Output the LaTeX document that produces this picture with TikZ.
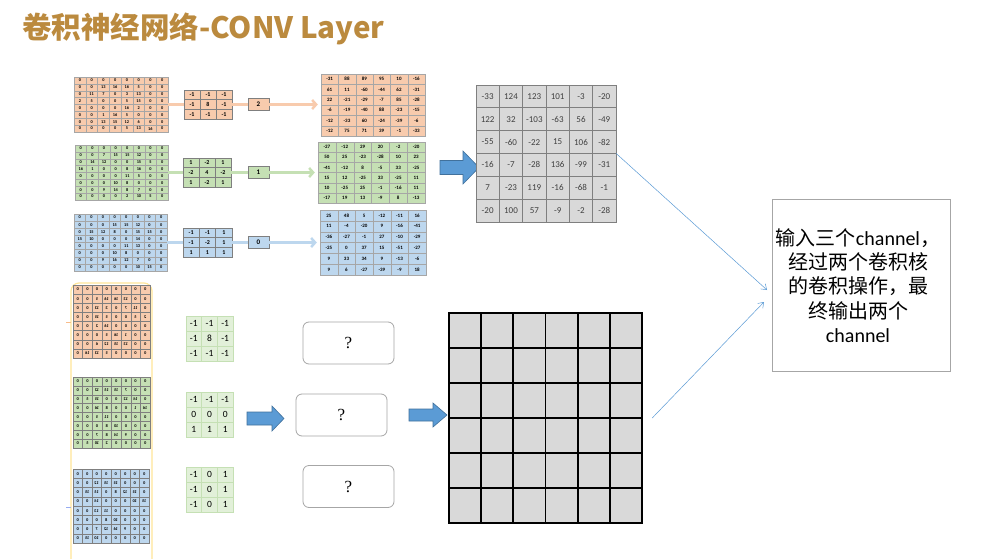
\documentclass[tikz,border=0pt]{standalone}
\usepackage{fontspec}
\setmainfont{Carlito}
\newfontfamily\cjk{Noto Sans CJK SC}
\newfontfamily\serifq{Liberation Serif}
\usetikzlibrary{arrows.meta,calc}
\definecolor{titlec}{HTML}{BB8A3E}
\definecolor{orf}{HTML}{F8CBAD}
\definecolor{grf}{HTML}{C5E0B4}
\definecolor{blf}{HTML}{BDD7EE}
\definecolor{cellb}{HTML}{A6A6A6}
\definecolor{kb}{HTML}{7F7F7F}
\definecolor{grayf}{HTML}{D9D9D9}
\definecolor{arrf}{HTML}{5B9BD5}
\definecolor{arrd}{HTML}{41719C}
\definecolor{kgf}{HTML}{E2F0D9}
\definecolor{kgb}{HTML}{C5E0B4}
\definecolor{yel}{HTML}{FFE699}
\definecolor{thinb}{HTML}{5B9BD5}
\definecolor{qb}{HTML}{A6A6A6}
\definecolor{dtext}{HTML}{404040}
\newcommand\cellgrid[9]{%
  \node[inner sep=0pt, minimum width=#4pt, minimum height=#5pt] (#1) at ({#2+#4/2},{#3+#5/2}) {};
  \pgfmathsetmacro\cgw{#4/#6}\pgfmathsetmacro\cgh{#5/#7}
  \foreach \rv [count=\ri] in {#9} {
    \foreach \cv [count=\ci] in \rv {
      \node[#8, minimum width=\cgw pt, minimum height=\cgh pt] at ({#2+(\ci-0.5)*\cgw},{#3+(\ri-0.5)*\cgh}) {\cv};
    }
  }
}
\newcommand\mirgrid[9]{%
  \node[inner sep=0pt, minimum width=#4pt, minimum height=#5pt] (#1) at ({#2+#4/2},{#3+#5/2}) {};
  \pgfmathsetmacro\cgw{#4/#6}\pgfmathsetmacro\cgh{#5/#7}
  \foreach \rv [count=\ri] in {#9} {
    \foreach \cv [count=\ci] in \rv {
      \node[#8, minimum width=\cgw pt, minimum height=\cgh pt] at ({#2+(#6-\ci+0.5)*\cgw},{#3+(\ri-0.5)*\cgh}) {\reflectbox{\cv}};
    }
  }
}
\tikzset{
  incell/.style={draw=cellb, line width=0.3pt, fill=#1, inner sep=0pt, font=\fontsize{4.3}{4.5}\selectfont\bfseries},
  kcell/.style={draw=kb, line width=0.5pt, fill=#1, inner sep=0pt, font=\fontsize{6}{6.5}\selectfont\bfseries},
  ocell/.style={draw=cellb, line width=0.3pt, fill=#1, inner sep=0pt, font=\fontsize{5}{5.5}\selectfont\bfseries},
  gcell/.style={draw=kb, line width=0.8pt, fill=grayf, inner sep=0pt, text=dtext, font=\fontsize{9}{10}\selectfont},
  bkcell/.style={draw=kgb, line width=0.8pt, fill=kgf, inner sep=0pt, font=\fontsize{9.5}{10}\selectfont},
  mcell/.style={draw=kb, line width=0.3pt, fill=#1, inner sep=0pt, font=\fontsize{4.3}{4.5}\selectfont\bfseries},
  biasbox/.style={draw=kb, line width=0.6pt, fill=#1, inner sep=0pt, minimum width=21pt, minimum height=12pt, font=\fontsize{7}{7.5}\selectfont\bfseries},
  qbox/.style={draw=qb, rounded corners=6pt, line width=0.8pt, minimum width=91pt, minimum height=42pt, font=\serifq\fontsize{17}{19}\selectfont},
  conn/.style={line width=2.5pt, draw=#1},
  connarr/.style={line width=2.5pt, draw=#1, -{Straight Barb[length=4pt,width=9pt]}},
  thinarr/.style={draw=thinb, line width=0.5pt, -{Straight Barb[length=5pt,width=7pt]}},
  bigarrow/.style={fill=arrf, draw=arrd, line width=0.6pt},
}
\begin{document}
\begin{tikzpicture}[x=1pt,y=-1pt]
\useasboundingbox[fill=white] (0,0) rectangle (1003,559);
% title
\node[anchor=west, text=titlec, font=\cjk\bfseries\fontsize{29.5}{32}\selectfont, inner sep=0pt] (title) at (22,29) {卷积神经网络-CONV Layer};
% ---------- top: orange
\cellgrid{oi}{74}{77}{94}{55}{8}{8}{incell=orf}{{0,0,0,0,0,0,0,0},{0,0,13,16,16,5,0,0},{0,11,7,0,3,13,0,0},{2,5,0,0,5,15,0,0},{0,0,0,0,16,2,0,0},{0,0,1,16,5,0,0,0},{0,0,13,15,12,6,0,0},{0,0,0,0,5,13,16,0}}
\cellgrid{ok}{184}{90}{48}{29}{3}{3}{kcell=orf}{{-1,-1,-1},{-1,8,-1},{-1,-1,-1}}
\node[biasbox=orf] (ob) at (258.5,104.5) {2};
\cellgrid{oo}{321}{74}{104}{62}{6}{6}{ocell=orf}{{-31,88,89,95,10,-16},{61,11,-60,-44,62,-31},{22,-21,-29,-7,85,-28},{-6,-19,-40,88,-23,-15},{-12,-33,60,-24,-39,-6},{-12,75,71,39,-1,-33}}
\draw[conn=orf] (oi.east) -- (oi.east -| ok.west);
\draw[conn=orf] (ok.east) -- (ok.east -| ob.west);
\draw[connarr=orf] (ob.east) -- ([xshift=-3pt]ob.east -| oo.west);
% ---------- top: green
\cellgrid{gi}{75}{145}{93}{55}{8}{8}{incell=grf}{{0,0,0,0,0,0,0,0},{0,0,7,15,15,12,0,0},{0,14,12,0,0,15,5,0},{16,1,0,0,8,16,0,0},{0,0,0,0,11,5,0,0},{0,0,0,10,8,0,0,0},{0,0,9,14,8,7,0,0},{0,0,0,0,2,10,5,0}}
\cellgrid{gk}{183}{158}{48}{29}{3}{3}{kcell=grf}{{1,-2,1},{-2,4,-2},{1,-2,1}}
\node[biasbox=grf] (gb) at (258.5,172.5) {1};
\cellgrid{go}{318}{142}{107}{61}{6}{6}{ocell=grf}{{-27,-12,29,20,-2,-20},{50,25,-23,-28,10,23},{-41,-12,8,-5,33,-25},{15,12,-25,33,-25,11},{10,-25,25,-1,-16,11},{-17,19,13,-9,8,-13}}
\draw[conn=grf] (gi.east) -- (gi.east -| gk.west);
\draw[conn=grf] (gk.east) -- (gk.east -| gb.west);
\draw[connarr=grf] (gb.east) -- ([xshift=-3pt]gb.east -| go.west);
% ---------- top: blue
\cellgrid{bi}{74}{214}{93}{57}{8}{8}{incell=blf}{{0,0,0,0,0,0,0,0},{0,0,0,15,15,12,0,0},{0,15,12,8,0,15,15,0},{15,10,0,0,0,14,0,0},{0,0,0,0,11,13,0,0},{0,0,0,10,8,0,0,0},{0,0,9,16,12,7,0,0},{0,0,0,0,0,10,15,0}}
\cellgrid{bk}{183}{228}{49}{29}{3}{3}{kcell=blf}{{-1,-1,1},{-1,-2,1},{1,1,1}}
\node[biasbox=blf] (bb) at (258.5,242.5) {0};
\cellgrid{bo}{320}{210}{106}{65}{6}{6}{ocell=blf}{{25,48,5,-12,-11,16},{11,-4,-20,9,-16,-41},{-36,-27,-1,27,-10,-29},{-25,0,37,15,-51,-27},{9,33,34,9,-13,-6},{9,6,-27,-39,-9,18}}
\draw[conn=blf] (bi.east) -- (bi.east -| bk.west);
\draw[conn=blf] (bk.east) -- (bk.east -| bb.west);
\draw[connarr=blf] (bb.east) -- ([xshift=-3pt]bb.east -| bo.west);
% big arrow to gray matrix
\draw[bigarrow] (440,160.5) -- (463,160.5) -- (463,151) -- (479,167.5) -- (463,184) -- (463,174.5) -- (440,174.5) -- cycle;
\cellgrid{gm}{476}{85}{140}{137}{6}{6}{gcell}{{-33,124,123,101,-3,-20},{122,32,-103,-63,56,-49},{-55,-60,-22,15,106,-82},{-16,-7,-28,136,-99,-31},{7,-23,119,-16,-68,-1},{-20,100,57,-9,-2,-28}}
% ---------- text box
\node[draw=qb, line width=0.8pt, minimum width=178pt, minimum height=172pt, inner sep=0pt] (tb) at (861,285) {};
\node[font=\fontsize{20}{24.3}\selectfont, align=center, inner sep=0pt] (tbt) at (858,285.5) {{\cjk 输入三个}channel{\cjk ，}\\{\cjk 经过两个卷积核}\\{\cjk 的卷积操作，最}\\{\cjk 终输出两个}\\channel};
% ---------- bottom
\draw[draw=yel, line width=1.2pt, rounded corners=8pt] (71,283) rectangle (152,590);
\draw[draw=orf!80!orange, line width=0.8pt] (66,322) -- (71,322);
\draw[draw=blf!80!blue, line width=0.8pt] (66,507) -- (71,507);
\mirgrid{mo}{73}{285}{77}{73}{8}{8}{mcell=orf}{{0,0,0,0,0,0,0,0},{0,0,13,16,16,5,0,0},{0,11,7,0,3,13,0,0},{2,5,0,0,5,15,0,0},{0,0,0,0,16,2,0,0},{0,0,1,16,5,0,0,0},{0,0,13,15,12,6,0,0},{0,0,0,0,5,13,16,0}}
\mirgrid{mg}{73}{377}{77}{71}{8}{8}{mcell=grf}{{0,0,0,0,0,0,0,0},{0,0,7,15,15,12,0,0},{0,14,12,0,0,15,5,0},{16,1,0,0,8,16,0,0},{0,0,0,0,11,5,0,0},{0,0,0,10,8,0,0,0},{0,0,9,14,8,7,0,0},{0,0,0,0,2,10,5,0}}
\mirgrid{mb}{73}{469}{76}{74}{8}{8}{mcell=blf}{{0,0,0,0,0,0,0,0},{0,0,0,15,15,12,0,0},{0,15,12,8,0,15,15,0},{15,10,0,0,0,14,0,0},{0,0,0,0,11,13,0,0},{0,0,0,10,8,0,0,0},{0,0,9,16,12,7,0,0},{0,0,0,0,0,10,15,0}}
\cellgrid{ka}{186}{316}{47}{45}{3}{3}{bkcell}{{-1,-1,-1},{-1,8,-1},{-1,-1,-1}}
\cellgrid{kbb}{186}{392}{47}{45}{3}{3}{bkcell}{{-1,-1,-1},{0,0,0},{1,1,1}}
\cellgrid{kc}{186}{467}{47}{45}{3}{3}{bkcell}{{-1,0,1},{-1,0,1},{-1,0,1}}
\draw[bigarrow] (247,412) -- (272,412) -- (272,406) -- (284,418.5) -- (272,431) -- (272,425) -- (247,425) -- cycle;
\node[qbox] (q1) at (348.5,343) {?};
\node[qbox] (q2) at (341.5,415) {?};
\node[qbox] (q3) at (348.5,486.5) {?};
\draw[bigarrow] (409,409) -- (433,409) -- (433,403) -- (447,415) -- (433,427) -- (433,421) -- (409,421) -- cycle;
\node[fill=grayf, minimum width=193pt, minimum height=210pt, inner sep=0pt] (bgrid) at (545.5,418) {};
\foreach \k in {1,...,5} {
  \draw[line width=1.8pt] ({449+\k*193/6},313) -- ({449+\k*193/6},523);
  \draw[line width=1.8pt] (449,{313+\k*35}) -- (642,{313+\k*35});
}
\draw[line width=1.8pt] (bgrid.south west) rectangle (bgrid.north east);
% thin connectors
\coordinate (t1) at (767,290);
\coordinate (t2) at (764,302);
\draw[thinarr] (gm.east) -- (t1);
\draw[thinarr] ([xshift=10pt]bgrid.east) -- (t2);
\end{tikzpicture}
\end{document}
